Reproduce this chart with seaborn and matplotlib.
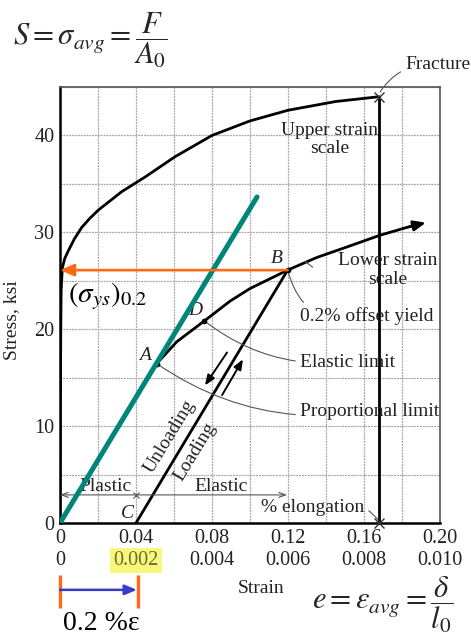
import numpy as np
import pandas as pd
import matplotlib
matplotlib.use("Agg")
import matplotlib.pyplot as plt
import seaborn as sns
from matplotlib.ticker import MultipleLocator

# ---------------- data ----------------
upper_strain = [0.0, 0.0002, 0.0004, 0.0006, 0.0012, 0.0025, 0.0044, 0.0075, 0.0114,
                0.0155, 0.0202, 0.0325, 0.0447, 0.0605, 0.08, 0.10, 0.12, 0.145, 0.168]
upper_stress = [0.0, 12.0, 20.0, 24.0, 26.3, 27.3, 28.1, 29.3, 30.5,
                31.4, 32.3, 34.2, 35.7, 37.8, 40.0, 41.5, 42.6, 43.5, 44.0]

lower_strain = [0.0, 0.0509, 0.0614, 0.076, 0.0895, 0.10, 0.1198, 0.1351, 0.1526, 0.1684, 0.1842]
lower_stress = [0.0, 16.45, 18.7, 20.86, 22.9, 24.2, 26.1, 27.4, 28.6, 29.7, 30.6]
lower_arrow_end = (0.1926, 31.0)

unload_strain = [0.1198, 0.04]
unload_stress = [26.1, 0.0]

offset_strain = [0.0, 0.1037]
offset_stress = [0.0, 33.65]

fracture_strain = [0.168, 0.168]
fracture_stress = [44.0, 0.0]

point_names = ["A", "D", "B"]
point_strain = [0.0509, 0.076, 0.1198]
point_stress = [16.45, 20.86, 26.1]

yield_stress = 26.1
offset = 0.04  # 0.2 % offset on the lower scale

xticks = [0, 0.04, 0.08, 0.12, 0.16, 0.20]
xlabels_row1 = ["0", "0.04", "0.08", "0.12", "0.16", "0.20"]
xlabels_row2 = ["0", "0.002", "0.004", "0.006", "0.008", "0.010"]
yticks = [0, 10, 20, 30, 40]
ylabels = ["0", "10", "20", "30", "40"]

# ---------------- style ----------------
sns.set_theme(style="white")
plt.rcParams["font.family"] = ["Liberation Serif", "DejaVu Serif"]
plt.rcParams["mathtext.fontset"] = "stix"

TXT = "#222222"
FS = 14

fig = plt.figure(figsize=(4.71, 6.41), dpi=100)
ax = fig.add_axes([60 / 471, 1 - 523 / 641, 380 / 471, 436 / 641])
ax.set_xlim(0, 0.20)
ax.set_ylim(0, 45)

ax.xaxis.set_minor_locator(MultipleLocator(0.02))
ax.yaxis.set_minor_locator(MultipleLocator(5))
ax.grid(True, which="both", color="#a9a9a9", lw=0.9, ls=(0, (1.6, 0.7)))
ax.set_axisbelow(True)
for s in ["top", "right"]:
    ax.spines[s].set_color("#555555")
    ax.spines[s].set_linewidth(1.2)
for s in ["left", "bottom"]:
    ax.spines[s].set_color("black")
    ax.spines[s].set_linewidth(1.8)

ax.set_xticks(xticks)
ax.set_xticklabels(xlabels_row1)
ax.set_yticks(yticks)
ax.set_yticklabels(ylabels)
ax.tick_params(which="both", length=0, labelsize=14.5, colors=TXT)
ax.tick_params(axis="x", pad=4)
ax.tick_params(axis="y", pad=4)

# second row of strain labels
for xv, lab in zip(xticks, xlabels_row2):
    kw = {}
    col = TXT
    if lab == "0.002":
        kw["bbox"] = dict(boxstyle="square,pad=0.15", fc="#f7f77c", ec="none")
        col = "#6b6b3a"
    ax.text(xv, -0.087, lab, transform=ax.get_xaxis_transform(), ha="center",
            va="center", fontsize=14.5, color=col, **kw)

ax.set_xlabel("Strain", fontsize=FS, color=TXT)
ax.xaxis.set_label_coords(0.53, -0.131)
ax.set_ylabel("Stress, ksi", fontsize=FS, color=TXT)
ax.yaxis.set_label_coords(-0.105, 0.466)

# ---------------- curves ----------------
sns.lineplot(x=upper_strain, y=upper_stress, ax=ax, color="black", lw=2.0,
             sort=False, estimator=None)
sns.lineplot(x=lower_strain, y=lower_stress, ax=ax, color="black", lw=2.0,
             sort=False, estimator=None)
ax.annotate("", xy=lower_arrow_end, xytext=(lower_strain[-1], lower_stress[-1]),
            arrowprops=dict(arrowstyle="-|>,head_length=0.6,head_width=0.25",
                            color="black", lw=2.0, shrinkA=0, shrinkB=0))
sns.lineplot(x=unload_strain, y=unload_stress, ax=ax, color="black", lw=2.0,
             sort=False, estimator=None)
sns.lineplot(x=fracture_strain, y=fracture_stress, ax=ax, color="black", lw=2.0,
             sort=False, estimator=None)
ax.plot([fracture_strain[0]] * 2, fracture_stress, ls="none", marker="x",
        ms=7, mew=1.0, color="#333333", clip_on=False, zorder=5)
sns.scatterplot(x=point_strain, y=point_stress, ax=ax, color="black", s=14,
                zorder=5, edgecolor="black")

# offset (teal) line
sns.lineplot(x=offset_strain, y=offset_stress, ax=ax, color="#00857a", lw=3.6,
             sort=False, estimator=None, zorder=6)

# orange yield arrow
ax.annotate("", xy=(0.0, yield_stress), xytext=(point_strain[2], yield_stress),
            arrowprops=dict(arrowstyle="-|>,head_length=0.7,head_width=0.3",
                            color="#ff6a13", lw=1.9, shrinkA=0, shrinkB=0), zorder=7)

# point labels
lab_pos = {"A": (0.0447, 17.3), "D": (0.071, 21.9), "B": (0.1142, 27.3), "C": (0.0353, 1.0)}
for n, (xx, yy) in lab_pos.items():
    ax.text(xx, yy, n, fontsize=FS, style="italic", ha="center", va="center", color=TXT)

# annotations with leaders
gray = "#555555"
ax.text(0.142, 39.6, "Upper strain\nscale", fontsize=FS, ha="center", va="center",
        linespacing=1.1, color=TXT)
ax.text(0.1726, 26.1, "Lower strain\nscale", fontsize=FS, ha="center", va="center",
        linespacing=1.1, color=TXT)
ax.annotate("0.2% offset yield", xy=(0.1198, 26.1), xytext=(0.1263, 21.4),
            fontsize=FS, va="center", ha="left", color=TXT,
            arrowprops=dict(arrowstyle="-", color=gray, lw=0.8,
                            connectionstyle="arc3,rad=-0.5", shrinkA=1, shrinkB=0))
ax.annotate("Elastic limit", xy=(0.076, 20.86), xytext=(0.1263, 16.6),
            fontsize=FS, va="center", ha="left", color=TXT,
            arrowprops=dict(arrowstyle="-", color=gray, lw=0.8,
                            connectionstyle="arc3,rad=-0.2", shrinkA=1, shrinkB=0))
ax.annotate("Proportional limit", xy=(0.0509, 16.45), xytext=(0.1263, 11.5),
            fontsize=FS, va="center", ha="left", color=TXT,
            arrowprops=dict(arrowstyle="-", color=gray, lw=0.8,
                            connectionstyle="arc3,rad=-0.2", shrinkA=1, shrinkB=0))
ax.plot([0.129, 0.133], [27.0, 26.4], color=gray, lw=0.8)
ax.annotate("Fracture", xy=(0.1685, 44.5), xytext=(0.1816, 47.3),
            fontsize=FS, va="center", ha="left", color=TXT, annotation_clip=False,
            arrowprops=dict(arrowstyle="-", color=gray, lw=0.8,
                            connectionstyle="arc3,rad=0.3", shrinkA=1, shrinkB=0))
ax.annotate("% elongation", xy=(0.1675, 0.3), xytext=(0.133, 1.6),
            fontsize=FS, va="center", ha="center", color=TXT,
            arrowprops=dict(arrowstyle="-", color=gray, lw=0.8,
                            connectionstyle="arc3,rad=-0.4", shrinkA=1, shrinkB=0))

# loading / unloading arrows
ax.annotate("", xy=(0.0763, 14.2), xytext=(0.0879, 17.6),
            arrowprops=dict(arrowstyle="-|>,head_length=0.5,head_width=0.2",
                            color="black", lw=1.4, shrinkA=0, shrinkB=0))
ax.annotate("", xy=(0.0963, 16.9), xytext=(0.0853, 13.2),
            arrowprops=dict(arrowstyle="-|>,head_length=0.5,head_width=0.2",
                            color="black", lw=1.4, shrinkA=0, shrinkB=0))
ax.text(0.0579, 8.96, "Unloading", rotation=58.7, fontsize=FS, ha="center", va="center",
        rotation_mode="anchor", color=TXT)
ax.text(0.0711, 7.4, "Loading", rotation=58.7, fontsize=FS, ha="center", va="center",
        rotation_mode="anchor", color=TXT)

# plastic / elastic
ax.annotate("", xy=(0.0, 2.9), xytext=(offset, 2.9),
            arrowprops=dict(arrowstyle="->,head_length=0.4,head_width=0.15",
                            color=gray, lw=0.8, shrinkA=0, shrinkB=0))
ax.annotate("", xy=(0.1195, 2.9), xytext=(offset, 2.9),
            arrowprops=dict(arrowstyle="->,head_length=0.4,head_width=0.15",
                            color=gray, lw=0.8, shrinkA=0, shrinkB=0))
ax.plot([offset], [2.9], marker="x", ms=5, mew=0.8, color=gray)
ax.text(0.0237, 3.8, "Plastic", fontsize=FS, ha="center", va="center", color=TXT)
ax.text(0.085, 3.8, "Elastic", fontsize=FS, ha="center", va="center", color=TXT)

# sigma_ys label
ax.text(0.0042, 23.4, r"$\left(\sigma_{ys}\right)_{0.2}$", fontsize=21, ha="left",
        va="center", color="black")

# 0.2 % strain bracket below axis
ax.vlines([0.0, 0.041], -5.4, -8.75, color="#ff6a13", lw=2.4, clip_on=False)
ax.annotate("", xy=(0.0405, -6.9), xytext=(0.0, -6.9), annotation_clip=False,
            arrowprops=dict(arrowstyle="-|>,head_length=0.6,head_width=0.25",
                            color="#3a3acc", lw=1.8, shrinkA=0, shrinkB=0))
ax.text(0.0216, -10.4, "0.2 %ε", fontsize=20, ha="center", va="center",
        color="black", clip_on=False)

# formulas
fig.text(13 / 471, 1 - 40 / 641, r"$S=\sigma_{avg}=\dfrac{F}{A_0}$", fontsize=22,
         ha="left", va="center")
fig.text(312 / 471, 1 - 605 / 641, r"$e=\varepsilon_{avg}=\dfrac{\delta}{l_0}$", fontsize=22,
         ha="left", va="center")

fig.savefig("out.png", dpi=100)
